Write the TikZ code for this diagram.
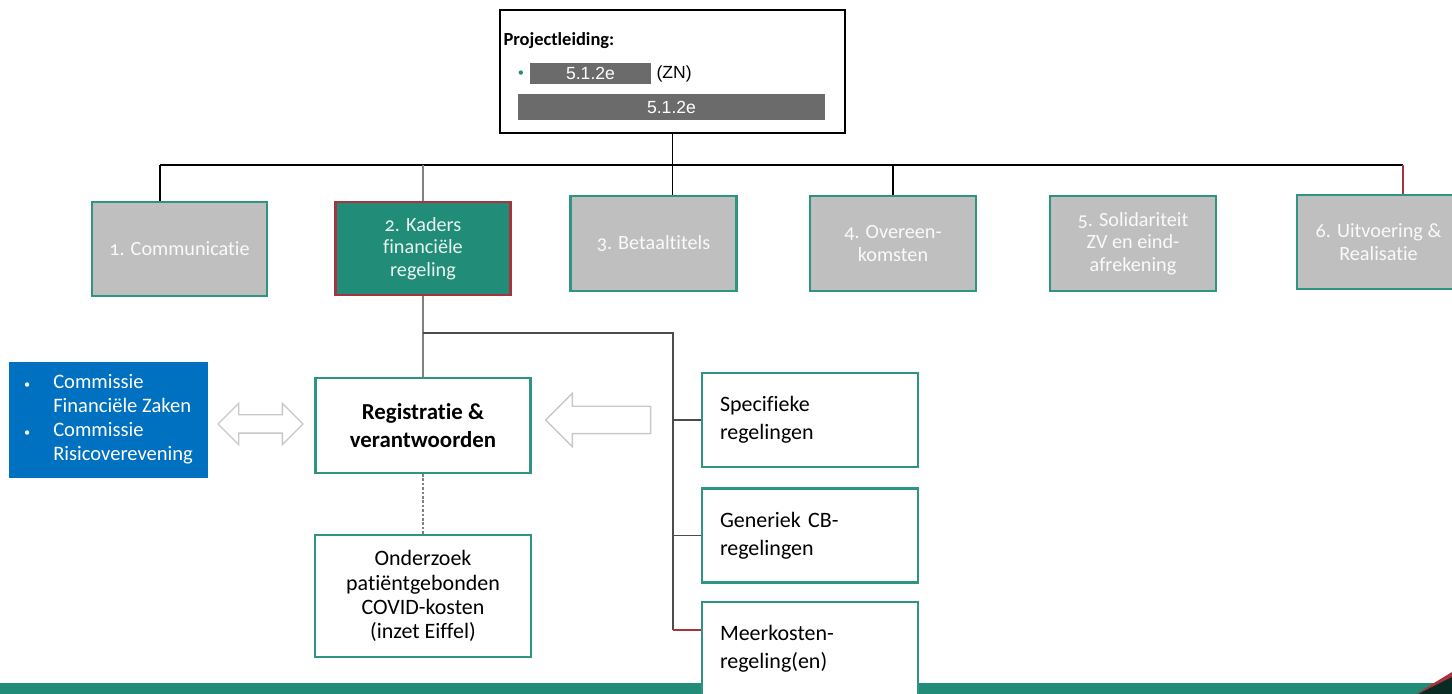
\documentclass[tikz,border=0pt]{standalone}
\usepackage{fontspec}
\setmainfont{Carlito}[Ligatures=NoCommon]
\newfontfamily\arial{Liberation Sans}
\usetikzlibrary{shapes.arrows}
\definecolor{groen}{HTML}{218C78}
\definecolor{groenrand}{HTML}{2E9582}
\definecolor{donkerrood}{HTML}{A8323E}
\definecolor{grijs}{HTML}{BFBFBF}
\definecolor{balkgrijs}{HTML}{6B6B6B}
\definecolor{blauw}{HTML}{0070C0}
\definecolor{pijlgrijs}{HTML}{C8C8C8}
\begin{document}
\begin{tikzpicture}[x=0.2mm,y=-0.2mm,line width=0.6pt,
	fase/.style={draw=groenrand,line width=1.2pt,fill=grijs,text=white!92!grijs,minimum width=33.2mm,minimum height=19mm,align=center,font=\fontsize{11.5}{12.8}\selectfont\addfontfeatures{Numbers=OldStyle}},
	blok/.style={draw=groenrand,line width=1.2pt,fill=white,minimum width=43.2mm,minimum height=18.8mm},
	sub/.style={blok,align=left,text width=36mm,inner xsep=3.6mm,font=\fontsize{12.5}{16}\selectfont},
	balk/.style={fill=balkgrijs,text=white,inner sep=0pt,font=\arial\fontsize{10}{12}\selectfont},
	pijl/.style={draw=pijlgrijs,line width=0.8pt,fill=white,inner xsep=0pt}]
	\useasboundingbox (0,0) rectangle (1452,694);
	\fill[groen] (0,683) rectangle (1452,694);
	\fill[donkerrood] (1416,694)--(1452,672)--(1452,679)--cycle;
	\fill[black!70!groen] (1418,694)--(1452,677)--(1452,694)--cycle;
	% projectleiding
	\node[draw=black,line width=1.2pt,minimum width=69mm,minimum height=24.6mm] (leiding) at (672.5,71.5) {};
	\node[anchor=west,inner sep=0pt,font=\bfseries\fontsize{10.5}{12}\selectfont] (pl) at (503,41) {Projectleiding:};
	\node[inner sep=0pt,text=groen,font=\scriptsize] (punt) at (521,74) {\textbullet};
	\node[balk,minimum width=24.2mm,minimum height=4.2mm] (naam1) at (590.5,73.5) {5.1.2e};
	\node[anchor=west,inner sep=0pt,font=\arial\fontsize{10}{12}\selectfont] (zn) at (656,74) {(ZN)};
	\node[balk,minimum width=61.4mm,minimum height=5.2mm] (naam2) at (671.5,107) {5.1.2e};
	% fasen
	\node[fase,minimum width=35mm,minimum height=18.8mm] (fase1) at (179.5,249) {1. Communicatie};
	\node[fase,minimum width=35mm,minimum height=18.6mm,fill=groen,draw=donkerrood,text=white!90!groen] (fase2) at (423,248.5) {2. Kaders\\financiële\\regeling};
	\node[fase] (fase3) at (653.5,243.5) {3. Betaaltitels};
	\node[fase] (fase4) at (893,243.5) {4. Overeen-\\komsten};
	\node[fase] (fase5) at (1133,243.5) {5. Solidariteit\\ZV en eind-\\afrekening};
	\node[fase,minimum width=32.6mm,minimum height=18.8mm] (fase6) at (1378.5,242) {6. Uitvoering \&\\Realisatie};
	\coordinate (k1) at (160,165);
	\coordinate (k6) at (1403,165);
	\draw (leiding.south) -- (leiding.south |- fase3.north);
	\draw (k1) -- (k6);
	\draw (k1) -- (k1 |- fase1.north);
	\draw[gray] (fase2.north |- k1) -- (fase2.north);
	\draw (fase4.north |- k1) -- (fase4.north);
	\draw[donkerrood] (k6) -- (k6 |- fase6.north);
	% registratie
	\node[blok,minimum width=43mm,minimum height=19mm,font=\bfseries\fontsize{13}{15.5}\selectfont,align=center] (regis) at (423,425.5) {Registratie \&\\verantwoorden};
	\node[fill=blauw,text=white,minimum width=39.8mm,minimum height=23.2mm,font=\fontsize{11.7}{13.7}\selectfont] (commissie) at (108.5,420) {%
		\begin{tabular}{@{}l@{\hspace{4.6mm}}l@{}}
			{\scriptsize\textbullet} & Commissie\\
			& Financiële Zaken\\
			{\scriptsize\textbullet} & Commissie\\
			& Risicoverevening
	\end{tabular}};
	\node[pijl,double arrow,minimum height=17mm,inner ysep=1.7mm,double arrow head extend=2.3mm] (pijl1) at (260.5,424) {};
	\node[pijl,single arrow,shape border rotate=180,minimum height=21mm,inner ysep=2.6mm,single arrow head extend=2.6mm] (pijl2) at (605,420) {};
	\node[blok,minimum height=24.4mm,align=center,font=\fontsize{12.5}{13.7}\selectfont] (onderzoek) at (423,596) {Onderzoek\\patiëntgebonden\\COVID-kosten\\(inzet Eiffel)};
	\node[sub] (spec) at (810,420) {Specifieke\\regelingen};
	\node[sub] (gen) at (810,535.5) {Generiek CB-\\regelingen};
	\node[sub] (meer) at (810,649) {Meerkosten-\\regeling(en)};
	\draw[gray] (fase2.south) -- (regis.north);
	\draw[gray,dash pattern=on 1.5pt off 1pt] (regis.south) -- (onderzoek.north);
	\coordinate (t) at (673,333);
	\coordinate (m) at (meer.west |- 0,630);
	\draw[black!70] (fase2.south |- t) -- (t) -- (t |- m);
	\draw[black!70] (t |- spec.west) -- (spec.west);
	\draw[black!70] (t |- gen.west) -- (gen.west);
	\draw[donkerrood] (t |- m) -- (m);
\end{tikzpicture}
\end{document}
